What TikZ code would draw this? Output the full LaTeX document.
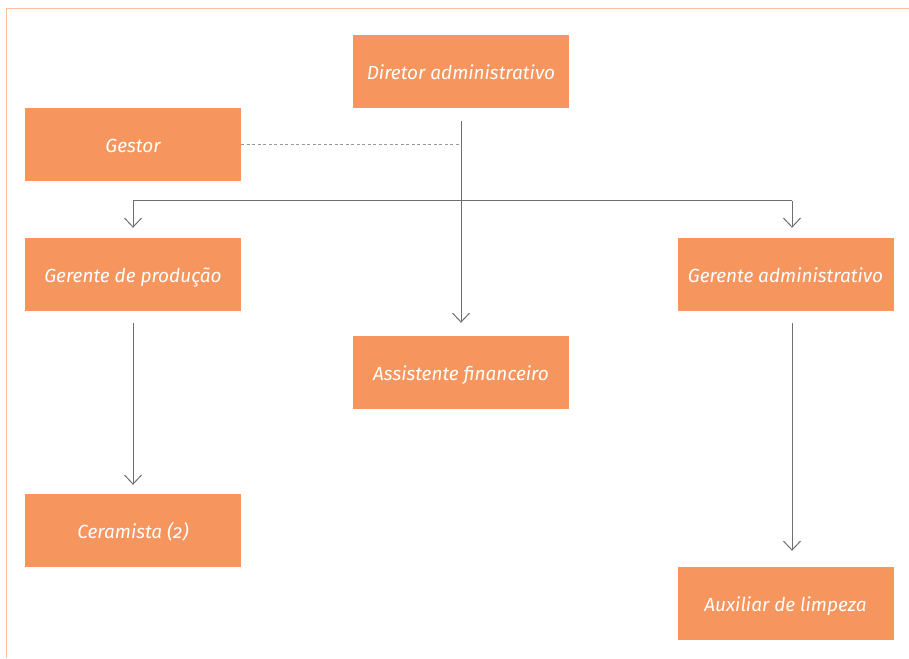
\documentclass[tikz,border=0pt]{standalone}
\usepackage{fontspec}
\setmainfont{Fira Sans}[Numbers=OldStyle]
\usetikzlibrary{arrows.meta,calc}
\definecolor{boxfill}{HTML}{F6955D}
\definecolor{framec}{HTML}{F9C09C}
\definecolor{linec}{HTML}{6E6E6E}
\definecolor{dashc}{HTML}{9A9A9A}
\tikzset{
  orgbox/.style={fill=boxfill, draw=none, minimum width=216pt, minimum height=73pt,
    inner sep=0pt, text height=16pt, text depth=0pt, text=white,
    font=\fontsize{19}{22}\selectfont\itshape},
  link/.style={draw=linec, line width=1pt},
  down/.style={link, -{Straight Barb[length=9pt,width=17pt,line width=1pt]}},
  dotted link/.style={draw=dashc, line width=1pt, dash pattern=on 3pt off 2.5pt},
}
\begin{document}
\begin{tikzpicture}[x=1pt,y=1pt]
  \useasboundingbox (0,0) rectangle (909,658);
  % page frame: top and left rules
  \draw[framec, line width=1.6pt] (909,649.5) -- (6.5,649.5) -- (6.5,0);

  % positions
  \node[orgbox] (dir)    at (461,586.5) {Diretor administrativo};
  \node[orgbox] (gestor) at (133,513.5) {Gestor};
  \node[orgbox] (gprod)  at (133,383.5) {Gerente de produção};
  \node[orgbox] (gadm)   at (785.5,383.5) {Gerente administrativo};
  \node[orgbox] (assist) at (461,285.5) {Assistente financeiro};
  \node[orgbox] (ceram)  at (133,127.5) {Ceramista (2)};
  \node[orgbox] (aux)    at (785.5,54.5) {Auxiliar de limpeza};

  % bus points
  \coordinate (busL) at ($(gprod.north)+(0,37)$);
  \coordinate (busR) at ($(gadm.north)+(6.5,37)$);
  \coordinate (admR) at ($(gadm.south)+(6.5,-12)$);

  % connectors
  \draw[dotted link] (gestor.east) -- (gestor.east -| dir.south);
  \draw[down] ($(dir.south)+(0,-13)$) -- ($(assist.north)+(0,13)$);
  \draw[link] (busL) -- (busR);
  \draw[down] (busL) -- ($(gprod.north)+(0,10)$);
  \draw[down] (busR) -- ($(gadm.north)+(6.5,10)$);
  \draw[down] ($(gprod.south)+(0,-12)$) -- ($(ceram.north)+(0,9)$);
  \draw[down] (admR) -- ($(aux.north)+(6.5,16)$);
\end{tikzpicture}
\end{document}
